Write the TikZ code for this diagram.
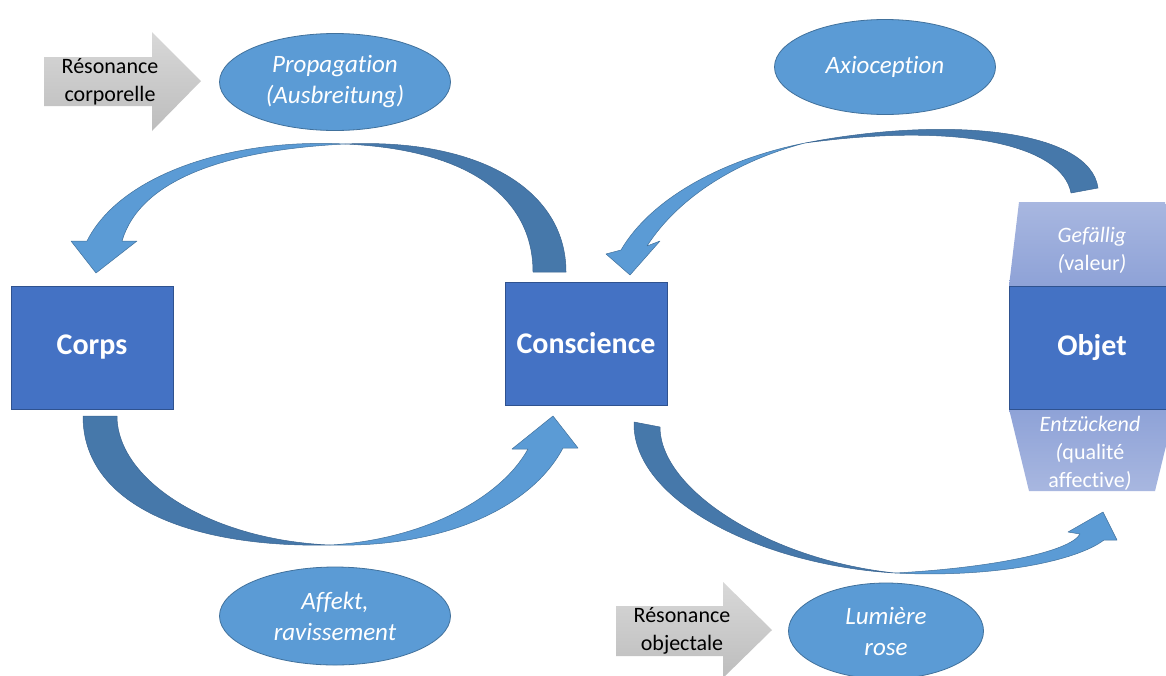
\documentclass[tikz,border=0pt]{standalone}
\usepackage{fontspec}
\setmainfont{Carlito}[Ligatures=NoCommon]
\usetikzlibrary{shapes.geometric}
\definecolor{boxblue}{HTML}{4472C4}
\definecolor{boxborder}{HTML}{2F528F}
\definecolor{ellblue}{HTML}{5B9BD5}
\definecolor{ellborder}{HTML}{41719C}
\definecolor{darkarrow}{HTML}{4678AA}
\definecolor{darkborder}{HTML}{3A6591}
\definecolor{trapA}{HTML}{A8B7E0}
\definecolor{trapB}{HTML}{8EA2D7}
\definecolor{grayA}{HTML}{D8D8D8}
\definecolor{grayB}{HTML}{BDBDBD}
\tikzset{
  box/.style={draw=boxborder, fill=boxblue, text=white, line width=0.7pt,
    font=\fontsize{30}{36}\selectfont\bfseries, minimum width=162pt, minimum height=123pt, inner sep=0pt},
  bubble/.style={ellipse, draw=ellborder, fill=ellblue, text=white, line width=0.8pt,
    font=\fontsize{25}{31}\selectfont\itshape, inner sep=0pt, align=center},
  graytext/.style={font=\fontsize{22}{28}\selectfont, align=center, text=black, inner sep=0pt},
  traptext/.style={font=\fontsize{22}{28}\selectfont, align=center, text=white, inner sep=0pt},
  lightband/.style={fill=ellblue, draw=ellborder, line width=0.5pt, line join=round},
  darkband/.style={fill=darkarrow, draw=darkborder, line width=0.5pt, line join=round},
  grayarrow/.style={top color=grayA, bottom color=grayB, draw=none},
}
\begin{document}
\begin{tikzpicture}[x=1pt, y=-1pt]
\useasboundingbox (0,0) rectangle (1166,675);
\clip (0,0) rectangle (1166,675);
\fill[white] (0,0) rectangle (1166,675);

% gray arrows
\shade[grayarrow] (44,57) -- (152,57) -- (152,32) -- (201,81) -- (152,131) -- (152,106) -- (44,106) -- cycle;
\node[graytext] (rescorp) at (110,82) {Résonance\\corporelle};
\shade[grayarrow] (616,606) -- (723,606) -- (723,582) -- (772,630) -- (723,678) -- (723,656) -- (616,656) -- cycle;
\node[graytext] (resobj) at (682,631) {Résonance\\objectale};

% ellipses
\node[bubble, minimum width=231pt, minimum height=97pt] (prop) at (335,82) {Propagation\\(Ausbreitung)};
\node[bubble, minimum width=221pt, minimum height=95pt] (axio) at (885,67) {Axioception};
\node[bubble, minimum width=231pt, minimum height=98pt] (affekt) at (335,616) {Affekt,\\ravissement};
\node[bubble, minimum width=195pt, minimum height=96pt] (lumiere) at (886,631) {Lumière\\rose};

% trapezoids around Objet
\shade[top color=trapA, bottom color=trapB] (1019,202) -- (1165,202) -- (1175,286) -- (1009,286) -- cycle;
\shade[top color=trapB, bottom color=trapA] (1009,409) -- (1175,409) -- (1155,491) -- (1029,491) -- cycle;
\node[traptext] (gef) at (1092,250) {\textit{Gefällig}\\\textit{(}valeur\textit{)}};
\node[traptext] (entz) at (1090,453) {\textit{Entzückend}\\\textit{(}qualité\\affective\textit{)}};

% boxes
\node[box] (corps) at (92,347.5) {Corps};
\node[box] (conscience) at (586,343.5) {Conscience};
\node[box, minimum width=166pt] (objet) at (1092,347.5) {Objet};

% arrow 1 : Conscience -> Corps (top)
\coordinate (t1) at (345,144);
\draw[darkband] (t1) .. controls (480,138) and (566,190) .. (566,272) -- (533,272)
   .. controls (533,205) and (480,150) .. (t1) -- cycle;
\draw[lightband] (t1) .. controls (230,138) and (120,175) .. (87,241) -- (71,241) -- (96,273) -- (137,241) -- (122,241)
   .. controls (140,180) and (225,150) .. (t1) -- cycle;

% arrow 2 : Objet -> Conscience (top right)
\coordinate (t2) at (805,143);
\draw[darkband] (t2) .. controls (950,115) and (1090,130) .. (1098,188) -- (1071,193)
   .. controls (1062,145) and (960,122) .. (t2) -- cycle;
\draw[lightband] (t2) .. controls (720,160) and (650,200) .. (621,250) -- (606,254) -- (630,275) -- (660,241) -- (647,246)
   .. controls (680,195) and (740,160) .. (t2) -- cycle;

% arrow 3 : Corps -> Conscience (bottom)
\coordinate (t3) at (330,545);
\draw[darkband] (83,416) .. controls (83,505) and (190,548) .. (t3)
   .. controls (210,540) and (117,480) .. (117,416) -- cycle;
\draw[lightband] (t3) .. controls (440,548) and (530,510) .. (563,448) -- (578,448) -- (553,416) -- (512,449) -- (528,449)
   .. controls (500,500) and (420,540) .. (t3) -- cycle;

% arrow 4 : Conscience -> Objet (bottom right)
\coordinate (t4) at (895,573);
\draw[darkband] (634,422) .. controls (632,500) and (760,565) .. (t4)
   .. controls (770,560) and (660,490) .. (660,427) -- cycle;
\draw[lightband] (t4) .. controls (990,578) and (1075,562) .. (1104,540) -- (1117,540) -- (1103,512) -- (1068,532) -- (1080,534)
   .. controls (1070,552) and (990,568) .. (t4) -- cycle;
\end{tikzpicture}
\end{document}
